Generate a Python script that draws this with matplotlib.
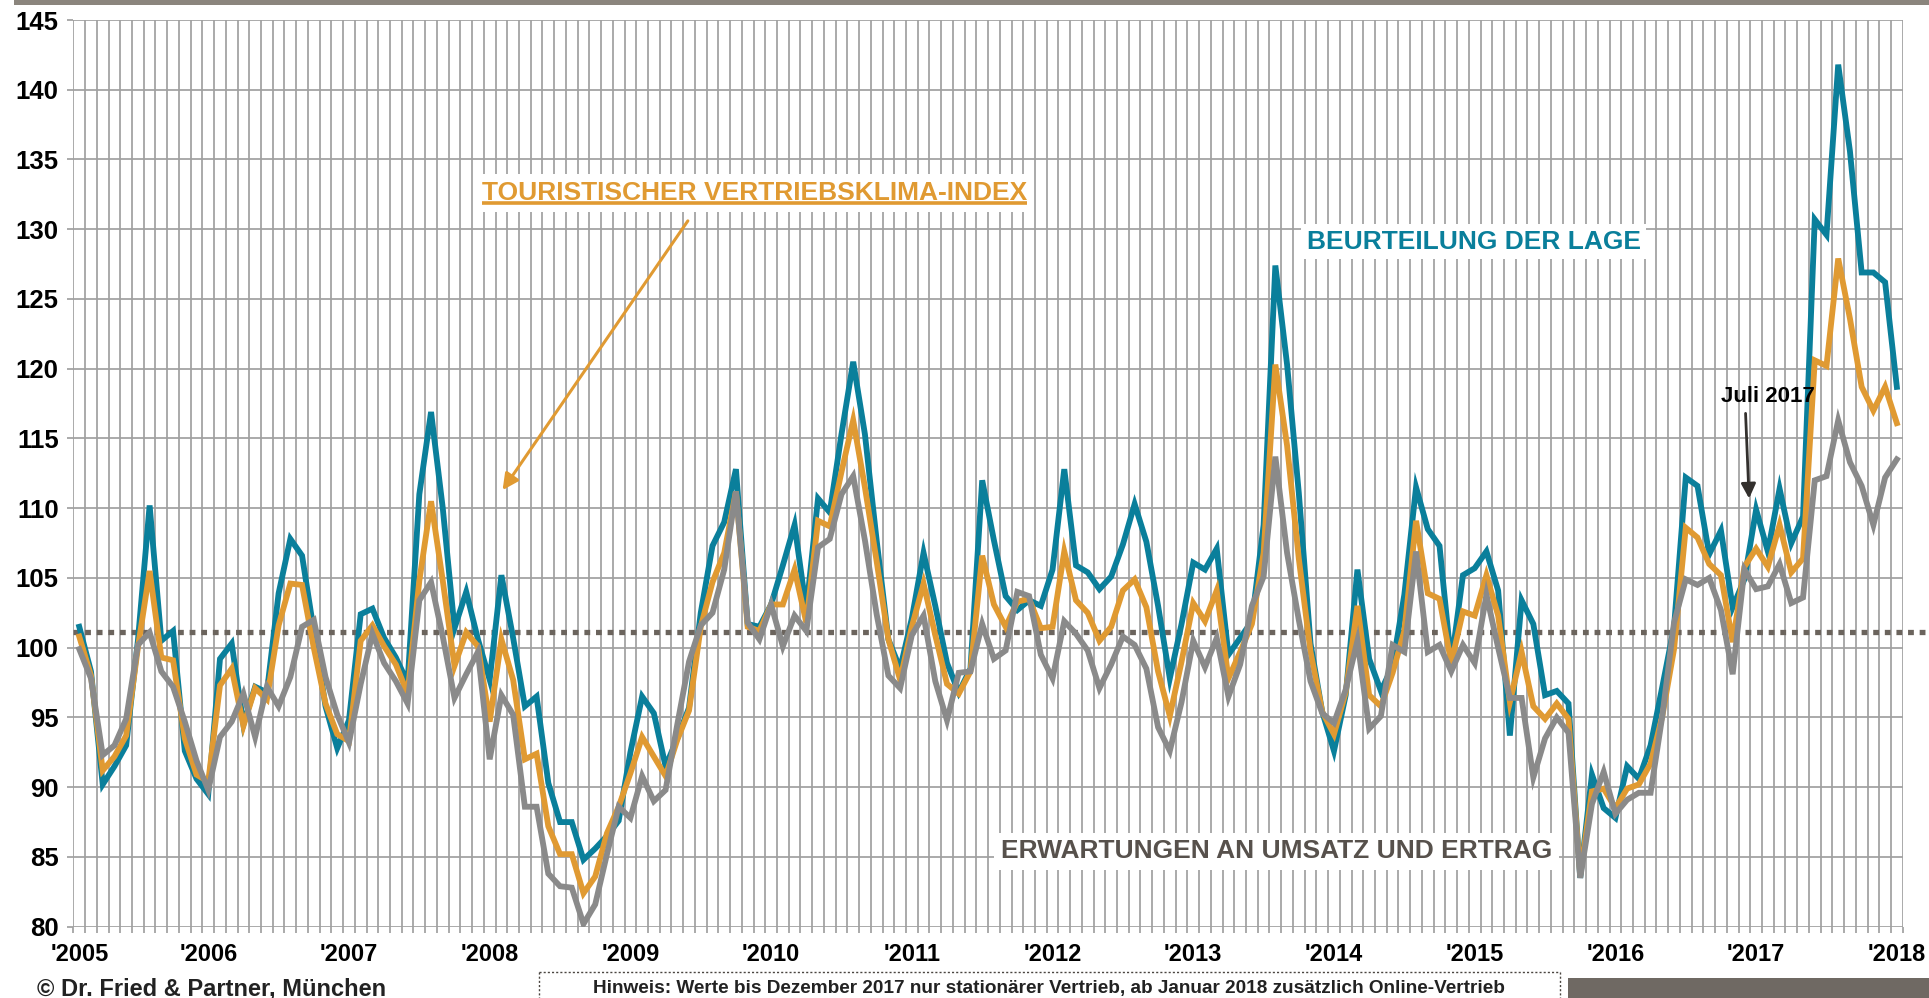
import matplotlib
matplotlib.use("Agg")
import matplotlib.pyplot as plt
from matplotlib.patches import Rectangle
from matplotlib.lines import Line2D
import numpy as np

plt.rcParams['font.family'] = ['Liberation Sans', 'DejaVu Sans']
plt.rcParams['font.weight'] = 'bold'

# Beurteilung der Lage (teal)
lage = [101.5, 98.3, 90.2, 91.5, 93.0, 100.5, 110.2, 100.5, 101.2, 92.6,
        90.6, 89.5, 99.2, 100.3, 94.5, 97.2, 96.8, 103.9, 107.8, 106.6,
        101.2, 95.8, 92.8, 94.8, 102.4, 102.8, 100.7, 99.3, 97.5, 111.0,
        116.9, 110.0, 101.4, 104.0, 100.6, 97.7, 105.2, 100.7, 95.8, 96.5,
        90.3, 87.5, 87.5, 84.8, 85.6, 86.5, 87.6, 92.5, 96.5, 95.3,
        91.5, 93.5, 95.7, 102.5, 107.3, 109.0, 112.8, 101.7, 101.5, 103.1,
        105.9, 108.8, 102.7, 110.7, 109.7, 115.3, 120.5, 115.3, 107.7, 100.6,
        98.5, 102.1, 106.8, 103.0, 98.9, 96.8, 98.5, 112.0, 107.7, 103.7,
        102.7, 103.4, 103.0, 105.6, 112.8, 105.9, 105.4, 104.2, 105.1, 107.4,
        110.3, 107.6, 103.0, 97.8, 101.7, 106.1, 105.6, 107.1, 99.5, 100.7,
        101.9, 108.8, 127.4, 120.3, 111.1, 100.3, 95.4, 92.6, 96.6, 105.6,
        99.2, 96.9, 98.7, 103.8, 111.5, 108.5, 107.3, 98.9, 105.2, 105.7,
        106.9, 104.1, 93.7, 103.4, 101.7, 96.6, 96.9, 96.0, 83.5, 90.9,
        88.5, 87.8, 91.5, 90.6, 93.0, 97.2, 101.5, 112.2, 111.6, 106.7,
        108.4, 102.9, 104.9, 109.9, 106.9, 111.4, 107.5, 109.4, 130.7, 129.6,
        141.8, 135.6, 126.9, 126.9, 126.2, 118.7]

# Touristischer Vertriebsklima-Index (orange)
klima = [100.8, 98.0, 91.2, 92.2, 93.7, 100.0, 105.5, 99.3, 99.1, 93.5,
         90.9, 90.4, 97.3, 98.5, 94.4, 97.1, 96.3, 101.6, 104.6, 104.5,
         100.0, 96.0, 93.8, 93.3, 100.5, 101.6, 100.1, 98.8, 96.7, 104.8,
         110.5, 104.8, 98.7, 101.1, 100.1, 94.7, 100.6, 97.7, 92.0, 92.4,
         87.2, 85.2, 85.2, 82.4, 83.6, 86.7, 88.6, 91.0, 93.6, 92.2,
         90.8, 93.4, 95.5, 101.5, 104.7, 106.8, 111.2, 101.5, 101.2, 103.1,
         103.1, 105.6, 101.8, 109.1, 108.7, 112.6, 116.3, 111.5, 106.2, 100.6,
         97.7, 101.5, 104.6, 100.9, 97.4, 96.7, 98.3, 106.6, 103.1, 101.5,
         103.3, 103.5, 101.4, 101.5, 106.9, 103.4, 102.5, 100.5, 101.5, 104.1,
         104.9, 102.9, 98.3, 95.1, 99.0, 103.2, 101.9, 104.1, 97.8, 99.7,
         101.7, 106.8, 120.3, 114.5, 106.4, 99.7, 95.4, 93.8, 96.8, 103.0,
         96.6, 95.8, 98.2, 101.2, 109.1, 103.9, 103.5, 98.9, 102.6, 102.3,
         105.2, 102.3, 96.1, 99.7, 95.8, 94.9, 96.0, 94.9, 83.7, 89.7,
         89.9, 88.5, 89.9, 90.2, 91.7, 95.1, 99.9, 108.6, 107.9, 106.0,
         105.2, 100.4, 105.8, 107.1, 105.8, 108.8, 105.4, 106.4, 120.6, 120.2,
         127.9, 123.6, 118.7, 117.0, 118.7, 116.1]

# Erwartungen an Umsatz und Ertrag (grey)
erwartung = [99.9, 97.8, 92.3, 93.0, 94.9, 100.2, 101.1, 98.3, 97.2, 94.7,
             91.9, 89.8, 93.6, 94.7, 96.7, 93.6, 97.2, 95.8, 97.9, 101.5,
             102.0, 97.9, 95.2, 93.2, 97.4, 101.0, 98.9, 97.6, 96.0, 103.4,
             104.7, 100.8, 96.4, 98.1, 99.7, 92.0, 96.6, 95.2, 88.6, 88.6,
             83.8, 82.9, 82.8, 80.2, 81.6, 85.2, 88.6, 87.8, 90.8, 89.0,
             89.8, 94.5, 99.0, 101.6, 102.5, 105.6, 111.2, 101.8, 100.6, 103.1,
             100.1, 102.3, 101.2, 107.2, 107.8, 111.0, 112.3, 107.7, 102.4, 98.0,
             97.1, 100.9, 102.3, 97.6, 94.8, 98.2, 98.3, 101.7, 99.2, 99.8,
             104.0, 103.7, 99.5, 97.8, 101.9, 101.0, 99.8, 97.1, 98.8, 100.8,
             100.2, 98.5, 94.3, 92.6, 96.1, 100.5, 98.6, 100.7, 96.5, 98.8,
             103.0, 105.1, 113.7, 106.8, 102.0, 97.6, 95.3, 94.6, 97.0, 100.5,
             94.2, 95.1, 100.2, 99.7, 106.9, 99.7, 100.2, 98.3, 100.2, 98.9,
             103.8, 100.0, 96.4, 96.4, 90.7, 93.5, 95.0, 93.9, 83.5, 88.8,
             91.1, 88.1, 89.1, 89.6, 89.6, 95.1, 101.8, 104.9, 104.5, 105.0,
             102.7, 98.1, 105.6, 104.2, 104.4, 106.0, 103.2, 103.6, 112.0, 112.3,
             116.3, 113.3, 111.6, 108.8, 112.2, 113.5]

year_labels = ["'%d" % y for y in range(2005, 2019)]
year_pos = [0] + list(range(11, 156, 12))
ref_level = 101.1

teal = '#0a7f9b'
orange = '#e09a32'
grey = '#8a8a8a'
gridc = '#a0a0a0'

W, H = 1929, 998
fig = plt.figure(figsize=(W / 100, H / 100), dpi=100)
ax = fig.add_axes([73.4 / W, 1 - 926.7 / H, (1902.7 - 73.4) / W, (926.7 - 20) / H])

months = np.arange(len(lage))
ax.plot(months, lage, color=teal, lw=4.2, zorder=3, solid_joinstyle='miter')
ax.plot(months, klima, color=orange, lw=4.2, zorder=4, solid_joinstyle='miter')
ax.plot(months, erwartung, color=grey, lw=4.2, zorder=5, solid_joinstyle='miter')

# reference level, dotted, runs out to the right edge
ax.plot([-0.5, 158], [ref_level, ref_level], color='#6b645d', lw=3.8,
        linestyle=(0, (1.1, 1.1)), dash_capstyle='butt', clip_on=False, zorder=2)

ax.set_xlim(-0.5, 155.5)
ax.set_ylim(80, 145)
ax.set_yticks(range(80, 146, 5))
ax.set_xticks(year_pos, labels=year_labels)
ax.set_xticks(np.arange(-0.5, 156, 1), minor=True)
ax.grid(which='minor', axis='x', color=gridc, lw=1.25, zorder=0)
ax.grid(which='major', axis='y', color=gridc, lw=1.25, zorder=0)
ax.grid(which='major', axis='x', visible=False)
for s in ax.spines.values():
    s.set_visible(False)
ax.tick_params(axis='x', which='major', length=0, pad=12, labelsize=17)
ax.tick_params(axis='x', which='minor', length=4.5, color=gridc, width=1.25)
ax.tick_params(axis='y', which='major', length=4.6, color=gridc, width=1.25,
               pad=6, labelsize=18.5)
for lab in ax.get_xticklabels() + ax.get_yticklabels():
    lab.set_fontweight('bold')

# labels
t = ax.text(57.6, 132.6, 'TOURISTISCHER VERTRIEBSKLIMA-INDEX', color=orange,
            fontsize=19, ha='center', va='center', zorder=6,
            bbox=dict(fc='white', ec='none', pad=5))
ax.text(118.9, 129.1, 'BEURTEILUNG DER LAGE', color=teal, fontsize=19,
        ha='center', va='center', zorder=6, bbox=dict(fc='white', ec='none', pad=4))
ax.text(102.1, 85.4, 'ERWARTUNGEN AN UMSATZ UND ERTRAG', color='#57514c',
        fontsize=19, ha='center', va='center', zorder=6,
        bbox=dict(fc='white', ec='none', pad=5))
ax.text(144.0, 118.0, 'Juli 2017', color='black', fontsize=16,
        ha='center', va='center', zorder=6)

# underline for the index label
fig.canvas.draw()
bb = t.get_window_extent().transformed(ax.transData.inverted())
ax.plot([bb.x0, bb.x1], [bb.y0 + 0.15, bb.y0 + 0.15], color=orange, lw=2.6,
        zorder=7, solid_capstyle='butt')

ax.annotate('', xy=(36.1, 111.3), xytext=(51.9, 130.6),
            arrowprops=dict(arrowstyle='-|>', color=orange, lw=2.2,
                            mutation_scale=24, shrinkA=0, shrinkB=0), zorder=7)
ax.annotate('', xy=(142.4, 110.7), xytext=(142.1, 116.8),
            arrowprops=dict(arrowstyle='-|>', color='#33302d', lw=2.0,
                            mutation_scale=22, shrinkA=0, shrinkB=0), zorder=7)

# frame decorations in pixel coordinates
def px_rect(x0, y0, x1, y1, **kw):
    fig.patches.append(Rectangle((x0 / W, 1 - y1 / H), (x1 - x0) / W, (y1 - y0) / H,
                                 transform=fig.transFigure, **kw))

px_rect(14, 0, W, 5, color='#8b857d', lw=0)
px_rect(1568, 978, W, H, color='#6f6963', lw=0)

box_x0, box_x1, box_y = 539, 1560, 972
for xs, ys in [([box_x0, box_x1], [box_y, box_y]),
               ([box_x0, box_x0], [box_y, H]),
               ([box_x1, box_x1], [box_y, H])]:
    fig.add_artist(Line2D([x / W for x in xs], [1 - y / H for y in ys],
                          transform=fig.transFigure, color='#4a4540', lw=1.0,
                          linestyle=(0, (1.5, 1.5))))

fig.text(212 / W, 1 - 989 / H, '\u00a9 Dr. Fried & Partner, M\u00fcnchen',
         fontsize=17, ha='center', va='center', color='#222222')
fig.text(1049 / W, 1 - 989 / H,
         'Hinweis: Werte bis Dezember 2017 nur station\u00e4rer Vertrieb, '
         'ab Januar 2018 zus\u00e4tzlich Online-Vertrieb',
         fontsize=13.7, ha='center', va='center', color='#222222')

fig.savefig('out.png', dpi=100, facecolor='white')
